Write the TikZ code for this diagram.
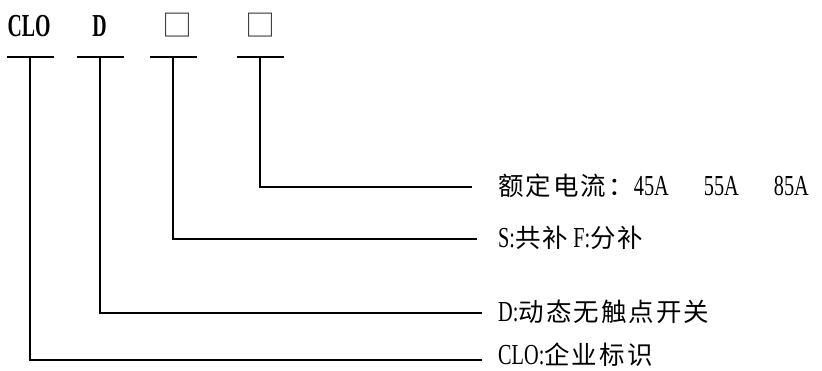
\documentclass[tikz,border=0pt]{standalone}
\usepackage{fontspec}
\setmainfont{Liberation Serif}[FakeStretch=0.7]
\newfontfamily\cjk{Noto Sans CJK SC}[LetterSpace=8]
\newfontfamily\topfont{Liberation Serif}[FakeStretch=0.62]
\newcommand\lt[1]{{\fontsize{29}{30}\selectfont #1}}
\begin{document}
\begin{tikzpicture}[x=1pt,y=-1pt,
  conn/.style={line width=1.6pt},
  bar/.style={inner sep=0pt, outer sep=0pt, minimum width=47pt, minimum height=0pt},
  lab/.style={anchor=west, inner sep=0pt, font=\fontsize{25.5}{30}\selectfont},
  toplab/.style={inner sep=0pt, font=\topfont\bfseries\fontsize{32}{34}\selectfont},
  boxmark/.style={inner sep=0pt, text=black!75, font=\cjk\fontsize{30}{32}\selectfont}]
\useasboundingbox (0,0) rectangle (822,371);
% top code letters
\node[toplab] (c1) at (29,26) {CLO};
\node[toplab] (c2) at (99.5,26) {D};
\node[boxmark] (c3) at (177,25) {□};
\node[boxmark] (c4) at (260,25) {□};
% T bars
\node[bar] (b1) at (30,57) {};
\node[bar] (b2) at (100,57) {};
\node[bar] (b3) at (173,57) {};
\node[bar] (b4) at (260,57) {};
\foreach \b in {b1,b2,b3,b4} \draw[conn] (\b.west) -- (\b.east);
% labels
\node[lab] (l4) at (498,186) {{\cjk 额定电流：}\lt{\makebox[70pt][l]{45A}\makebox[70pt][l]{55A}85A}};
\node[lab] (l3) at (498,238) {\lt{S:}{\cjk 共补}\lt{ F:}{\cjk 分补}};
\node[lab] (l2) at (498,312) {\lt{D:}{\cjk 动态无触点开关}};
\node[lab] (l1) at (498,355) {\lt{CLO:}{\cjk 企业标识}};
% connectors
\draw[conn] (b4.center) |- ([xshift=-26pt,yshift=-1pt]l4.west);
\draw[conn] (b3.center) |- ([xshift=-21pt,yshift=-1pt]l3.west);
\draw[conn] (b2.center) |- ([xshift=-16pt,yshift=-1pt]l2.west);
\draw[conn] (b1.center) |- ([xshift=-16pt,yshift=-5pt]l1.west);
\end{tikzpicture}
\end{document}
